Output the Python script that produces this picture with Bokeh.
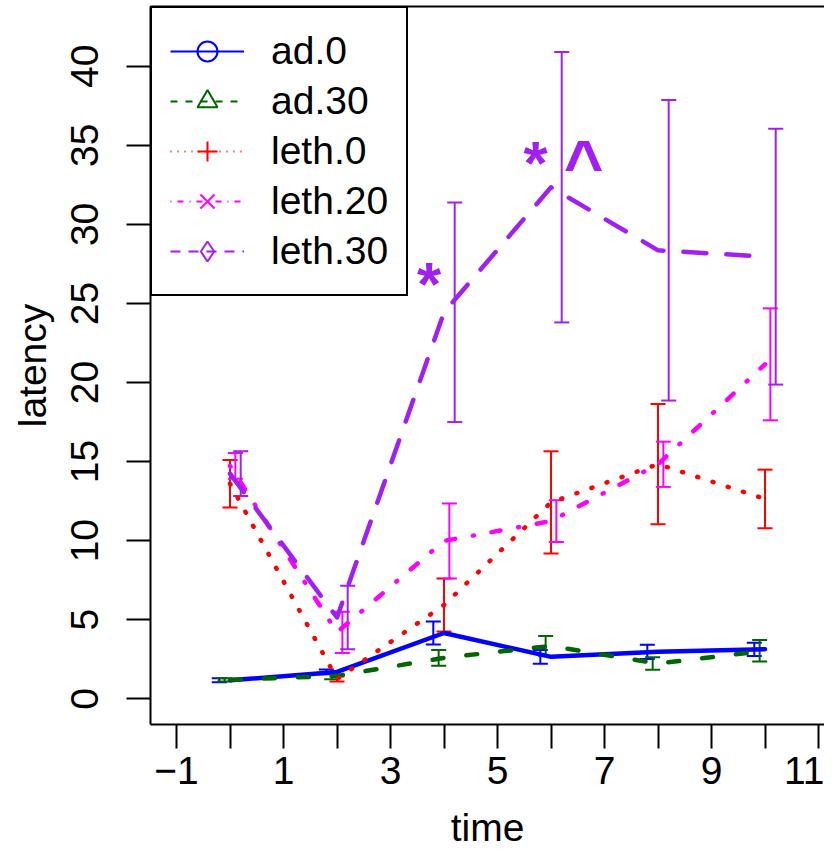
from bokeh.plotting import figure
from bokeh.models import (ColumnDataSource, Whisker, TeeHead, FixedTicker,
                          LinearAxis, Legend, LegendItem, Range1d)
from bokeh.core.properties import value
from bokeh.embed import file_html
from bokeh.resources import INLINE

# ---------------- data ----------------
times = [0, 2, 4, 6, 8, 10]
series_names = ["ad.0", "ad.30", "leth.0", "leth.20", "leth.30"]

ad0_mean = [1.17, 1.70, 4.16, 2.65, 2.97, 3.13]
ad0_err = [0.13, 0.15, 0.72, 0.44, 0.45, 0.42]

ad30_mean = [1.20, 1.45, 2.59, 3.34, 2.23, 3.03]
ad30_err = [0.10, 0.21, 0.50, 0.63, 0.40, 0.68]

leth0_mean = [13.60, 1.25, 5.93, 12.42, 14.84, 12.64]
leth0_err = [1.50, 0.16, 1.68, 3.23, 3.80, 1.85]

leth20_mean = [14.73, 4.20, 9.98, 11.24, 14.83, 21.15]
leth20_err = [0.81, 1.30, 2.37, 1.32, 1.43, 3.54]

leth30_mean = [14.24, 5.14, 24.44, 32.35, 28.36, 27.96]
leth30_err = [1.41, 2.01, 6.94, 8.55, 9.50, 8.09]

bar_offsets = [-0.2, -0.1, 0.0, 0.1, 0.2]

star_x = [3.72, 5.71]
star_y = [27.0, 34.7]
caret_x = [6.61]
caret_y = [34.6]

x_ticks = list(range(-1, 12))
x_tick_labels = {-1: "\u22121", 1: "1", 3: "3", 5: "5", 7: "7", 9: "9", 11: "11"}
y_ticks = [0, 5, 10, 15, 20, 25, 30, 35, 40]

# ---------------- style ----------------
colors = ["#0000FF", "#006400", "#FF0000", "#FF00FF", "#A020F0"]
dashes = ["solid", "11 23", "1 15", "1 18 9 18", "23 20"]
legend_dashes = ["solid", "7 8", "1 6", "1 6 6 6", "10 8"]
markers = ["circle", "triangle", "cross", "x", "diamond"]
FONT = "Liberation Sans"
FS = "39px"

means = [ad0_mean, ad30_mean, leth0_mean, leth20_mean, leth30_mean]
errs = [ad0_err, ad30_err, leth0_err, leth20_err, leth30_err]

p = figure(width=824, height=851, output_backend="svg", toolbar_location=None,
           x_range=Range1d(-1.486, 11.112), y_range=Range1d(-1.627, 43.78),
           min_border_left=150, min_border_right=0, min_border_top=6,
           min_border_bottom=127)
p.extra_y_ranges = {"legend_only": Range1d(1000, 1001)}
p.outline_line_color = None
p.xgrid.visible = False
p.ygrid.visible = False
p.background_fill_color = "white"
p.border_fill_color = "white"

legend_items = []
for i, name in enumerate(series_names):
    src = ColumnDataSource(dict(
        x=[t + bar_offsets[i] for t in times],
        upper=[m + e for m, e in zip(means[i], errs[i])],
        lower=[m - e for m, e in zip(means[i], errs[i])],
    ))
    p.line(times, means[i], line_color=colors[i], line_width=4.5,
           line_dash=dashes[i], line_cap="round", line_join="round")
    w = Whisker(base="x", upper="upper", lower="lower", source=src,
                line_color=colors[i], line_width=2,
                upper_head=TeeHead(size=15, line_color=colors[i], line_width=2),
                lower_head=TeeHead(size=15, line_color=colors[i], line_width=2))
    p.add_layout(w)
    # legend-only renderers (kept outside the visible range)
    lr = p.line(times, means[i], line_color=colors[i], line_width=2,
                line_dash=legend_dashes[i], y_range_name="legend_only")
    sr = p.scatter(times, means[i], marker=markers[i], size=20,
                   line_color=colors[i], fill_color=None, line_width=2,
                   y_range_name="legend_only")
    legend_items.append(LegendItem(label=name, renderers=[lr, sr]))

p.text(x=star_x, y=star_y, text=["*"] * len(star_x), text_color="#A020F0",
       text_font=value(FONT), text_font_size="62px", text_font_style="bold",
       text_align="center", text_baseline="middle", y_offset=12)
p.text(x=caret_x, y=caret_y, text=["^"] * len(caret_x), text_color="#A020F0",
       text_font=value(FONT), text_font_size="68px", text_font_style="bold",
       text_align="center", text_baseline="middle", y_offset=12)

legend = Legend(items=legend_items, location="top_left", margin=0,
                padding=18, spacing=0, glyph_width=74, glyph_height=50,
                label_height=50, label_standoff=27,
                label_text_font=FONT, label_text_font_size=FS,
                label_text_color="black",
                border_line_color="black", border_line_width=2,
                border_line_alpha=1.0,
                background_fill_color="white", background_fill_alpha=1)
p.add_layout(legend)

# axes
xa = p.xaxis[0]
xa.ticker = FixedTicker(ticks=x_ticks)
xa.major_label_overrides = {t: x_tick_labels.get(t, "") for t in x_ticks}
ya = p.yaxis[0]
ya.ticker = FixedTicker(ticks=y_ticks)
ya.major_label_orientation = "vertical"
xa.axis_label = "time"
ya.axis_label = "latency"
for ax in (xa, ya):
    ax.axis_line_width = 2
    ax.major_tick_line_width = 2
    ax.major_tick_out = 24
    ax.major_tick_in = 0
    ax.minor_tick_out = 0
    ax.minor_tick_in = 0
    ax.major_label_text_font = FONT
    ax.major_label_text_font_size = FS
    ax.major_label_text_color = "black"
    ax.axis_label_text_font = FONT
    ax.axis_label_text_font_size = FS
    ax.axis_label_text_font_style = "normal"
    ax.axis_label_text_color = "black"
xa.major_label_standoff = 8
xa.axis_label_standoff = 19
ya.major_label_standoff = 28
ya.axis_label_standoff = 15

top = LinearAxis(ticker=FixedTicker(ticks=[]), axis_line_width=2,
                 major_tick_out=0, major_tick_in=0, minor_tick_out=0,
                 minor_tick_in=0, major_label_text_font_size="0px",
                 major_label_standoff=0)
p.add_layout(top, "above")

open("out.html", "w").write(file_html(p, INLINE))
